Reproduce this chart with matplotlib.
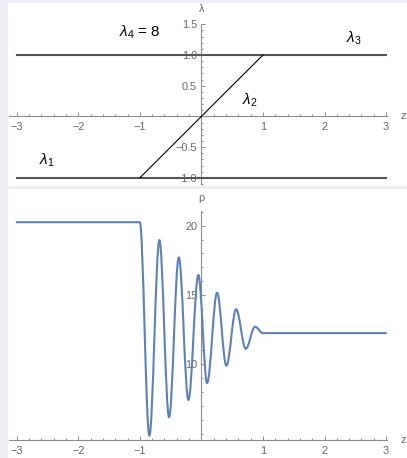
import matplotlib
matplotlib.use("Agg")
import matplotlib.pyplot as plt
from matplotlib.patches import Rectangle, PathPatch
from matplotlib.path import Path
from matplotlib.ticker import FixedLocator, MultipleLocator, FixedFormatter

plt.rcParams["font.family"] = ["Liberation Sans", "DejaVu Sans"]
plt.rcParams["mathtext.fontset"] = "custom"
plt.rcParams["mathtext.rm"] = "Liberation Sans"
plt.rcParams["mathtext.it"] = "Liberation Sans:italic"

# ---- top panel: Riemann invariants ----
z_range = [-3, 3]
lam1 = -1.0
lam3 = 1.0
lam2_z = [-1, 1]          # lambda_2 follows z on the fan
lam2_val = [-1, 1]

# ---- bottom panel: density, read at flat states and at each extremum ----
rho_left = 20.25
rho_right = 12.25
rho_z = [-1.0, -0.845, -0.682, -0.525, -0.367, -0.211, -0.049, 0.093,
         0.255, 0.406, 0.564, 0.721, 0.872, 1.0]
rho_val = [20.25, 4.85, 18.96, 6.18, 17.71, 7.43, 16.44, 8.65,
           15.16, 9.90, 13.97, 11.12, 12.71, 12.25]

BG = "#eeeef7"
AXC = "#8c8c8c"
TXC = "#666666"
BLUE = "#5e81b5"

fig = plt.figure(figsize=(4.07, 4.58), dpi=100, facecolor=BG)
fig.patches.append(Rectangle((8 / 407, 1 - 186 / 458), 1, 183 / 458,
                             transform=fig.transFigure, fc="white", ec="none", zorder=-10))
fig.patches.append(Rectangle((8 / 407, 0), 1, 1 - 188.7 / 458,
                             transform=fig.transFigure, fc="white", ec="none", zorder=-10))

ax1 = fig.add_axes([9 / 407, 1 - 184 / 458, 378 / 407, 159.7 / 458])
ax2 = fig.add_axes([9 / 407, 18 / 458, 378 / 407, 229.3 / 458])


def style_axes(ax, x0, y0):
    ax.patch.set_alpha(0)
    for s in ("top", "right"):
        ax.spines[s].set_visible(False)
    ax.spines["left"].set_position(("data", x0))
    ax.spines["bottom"].set_position(("data", y0))
    for s in ("left", "bottom"):
        ax.spines[s].set_color(AXC)
        ax.spines[s].set_linewidth(0.8)
    ax.tick_params(which="both", direction="in", colors=AXC, labelcolor=TXC,
                   labelsize=7.8, width=0.7)
    ax.tick_params(which="major", length=3.2)
    ax.tick_params(which="minor", length=1.6)
    ax.tick_params(axis="x", pad=4)
    ax.tick_params(axis="y", pad=3)
    ax.set_axisbelow(True)


xt = [-3, -2, -1, 1, 2, 3]
xl = ["\u22123", "\u22122", "\u22121", "1", "2", "3"]

# top panel
ax1.set_xlim(-3.125, 3.015)
ax1.set_ylim(-1.1, 1.5)
style_axes(ax1, 0, 0)
ax1.xaxis.set_major_locator(FixedLocator(xt))
ax1.xaxis.set_major_formatter(FixedFormatter(xl))
ax1.xaxis.set_minor_locator(MultipleLocator(0.2))
ax1.yaxis.set_major_locator(FixedLocator([-1, -0.5, 0.5, 1, 1.5]))
ax1.yaxis.set_major_formatter(FixedFormatter(["\u22121.0", "\u22120.5", "0.5", "1.0", "1.5"]))
ax1.yaxis.set_minor_locator(MultipleLocator(0.1))

ax1.plot(z_range, [lam1, lam1], color="#555555", lw=1.5, zorder=3)
ax1.plot(z_range, [lam3, lam3], color="#555555", lw=1.5, zorder=3)
ax1.plot(lam2_z, lam2_val, color="black", lw=0.8, zorder=3)

ax1.text(-1.0, 1.37, r"$\lambda_4$ = 8", fontsize=11, ha="center", va="center")
ax1.text(2.48, 1.27, r"$\lambda_3$", fontsize=11, ha="center", va="center")
ax1.text(0.78, 0.27, r"$\lambda_2$", fontsize=11, ha="center", va="center")
ax1.text(-2.51, -0.71, r"$\lambda_1$", fontsize=11, ha="center", va="center")

ax1.annotate("z", xy=(1, 0), xycoords=("axes fraction", "data"), xytext=(11.5, 0),
             textcoords="offset points", ha="center", va="center", color=TXC, fontsize=7.8)
ax1.annotate("\u03bb", xy=(0, 1), xycoords=("data", "axes fraction"), xytext=(0, 11),
             textcoords="offset points", ha="center", va="center", color=TXC, fontsize=7.8)

# bottom panel
ax2.set_xlim(-3.125, 3.015)
ax2.set_ylim(4.54, 21.08)
style_axes(ax2, 0, 4.54)
ax2.xaxis.set_major_locator(FixedLocator(xt))
ax2.xaxis.set_major_formatter(FixedFormatter(xl))
ax2.xaxis.set_minor_locator(MultipleLocator(0.2))
ax2.yaxis.set_major_locator(FixedLocator([10, 15, 20]))
ax2.yaxis.set_minor_locator(MultipleLocator(1))

# smooth path: flat state, then cubic segments with level tangents at each extremum
k = 0.36
verts = [(z_range[0], rho_left), (rho_z[0], rho_val[0])]
codes = [Path.MOVETO, Path.LINETO]
for (za, ra), (zb, rb) in zip(zip(rho_z[:-1], rho_val[:-1]), zip(rho_z[1:], rho_val[1:])):
    dz = zb - za
    verts += [(za + k * dz, ra), (zb - k * dz, rb), (zb, rb)]
    codes += [Path.CURVE4] * 3
verts.append((z_range[1], rho_right))
codes.append(Path.LINETO)
ax2.add_patch(PathPatch(Path(verts, codes), fc="none", ec=BLUE, lw=1.5,
                        capstyle="round", joinstyle="round", zorder=3))

ax2.annotate("z", xy=(1, 4.54), xycoords=("axes fraction", "data"), xytext=(11.5, 0),
             textcoords="offset points", ha="center", va="center", color=TXC, fontsize=7.8)
ax2.annotate("\u03c1", xy=(0, 1), xycoords=("data", "axes fraction"), xytext=(0, 9.5),
             textcoords="offset points", ha="center", va="center", color=TXC, fontsize=7.8)

fig.savefig("out.png", dpi=100, facecolor=BG)
